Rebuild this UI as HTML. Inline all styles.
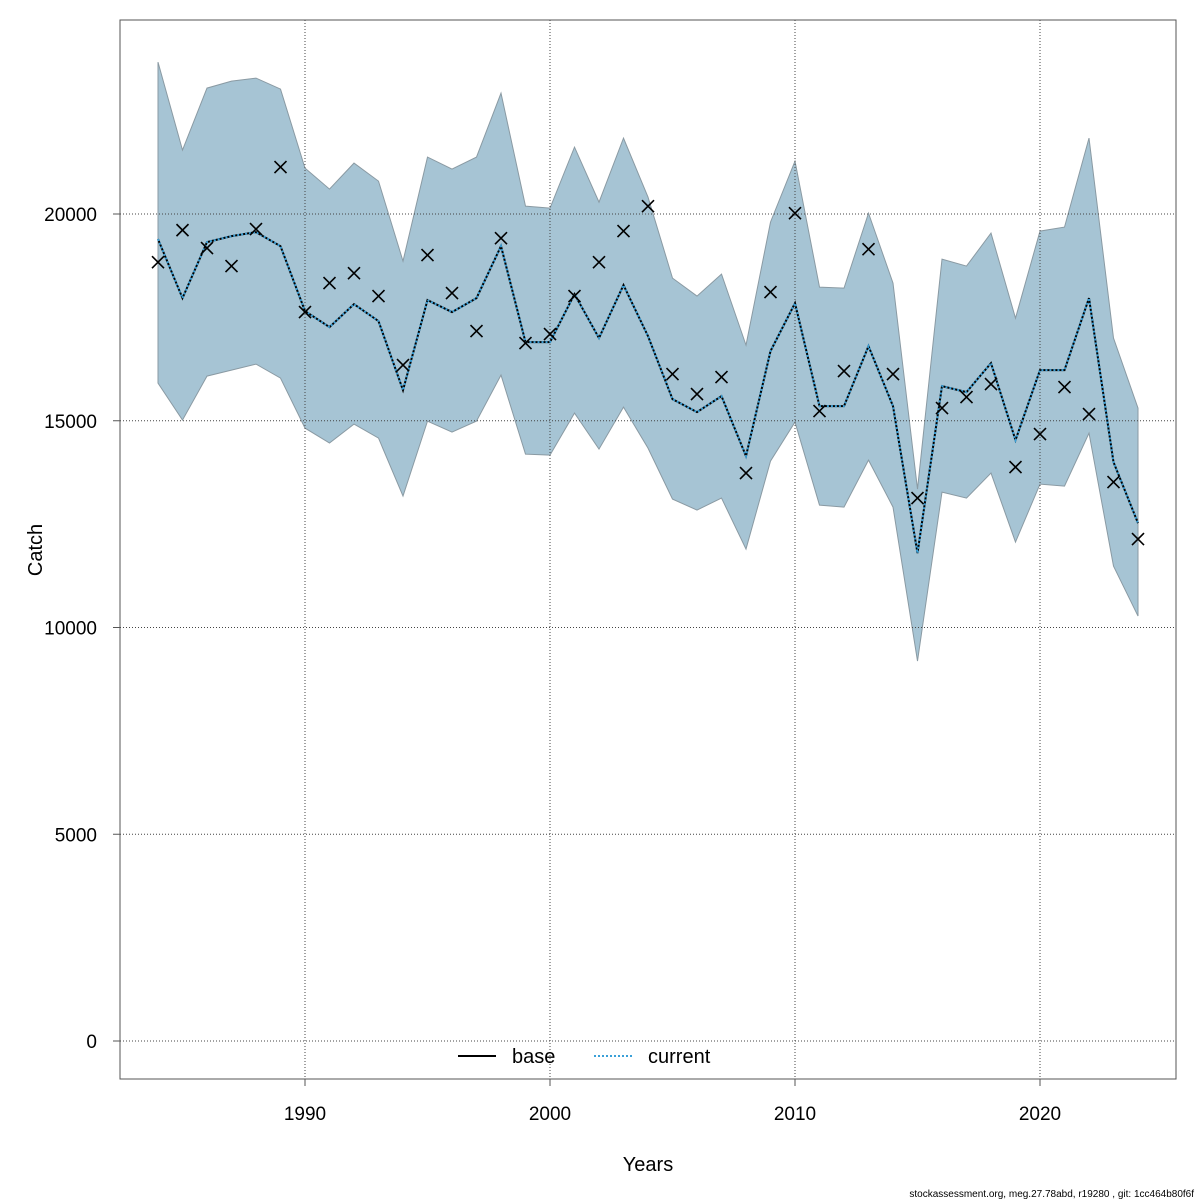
<!DOCTYPE html>
<html><head><meta charset="utf-8"><style>
html,body{margin:0;padding:0;background:#fff;}
svg{display:block;font-family:"Liberation Sans",sans-serif;}
</style></head><body>
<svg id="chart" width="1200" height="1200" viewBox="0 0 1200 1200"></svg>
<script>
const years=[];for(let y=1984;y<=2024;y++)years.push(y);
const observed=[18835,19610,19175,18740,19635,21134,17628,18330,18570,18015,16346,19006,18087,17168,19416,16878,17095,18015,18835,19586,20190,16128,15644,16056,13735,18111,20021,15233,16201,19150,16128,13130,15306,15572,15886,13880,14677,15814,15161,13517,12138];
const estimate=[19393,17966,19320,19465,19562,19223,17652,17264,17820,17410,15740,17918,17628,17966,19223,16902,16902,18063,17000,18280,17047,15523,15209,15596,14145,16684,17845,15354,15354,16805,15354,11800,15838,15693,16394,14532,16225,16225,17966,14000,12525];
const upper=[23674,21545,23045,23214,23287,23021,21110,20602,21231,20795,18860,21376,21086,21376,22923,20190,20142,21618,20287,21835,20409,18450,18015,18546,16829,19804,21279,18232,18208,20021,18330,13348,18908,18740,19538,17482,19586,19683,21835,17000,15306];
const lower=[15910,15016,16080,16225,16370,16031,14822,14460,14919,14580,13178,14991,14725,14991,16104,14193,14169,15185,14314,15330,14338,13105,12840,13130,11897,14024,14967,12960,12912,14048,12912,9188,13275,13130,13735,12066,13468,13420,14701,11486,10277];
const yTicks=[0,5000,10000,15000,20000];
const xTicks=[1990,2000,2010,2020];

const NS="http://www.w3.org/2000/svg";
const svg=document.getElementById('chart');
const X=v=>305+(v-1990)*24.5;
const Y=v=>1041-v*827/20000;
function mk(tag,attrs,parent){const e=document.createElementNS(NS,tag);for(const k in attrs)e.setAttribute(k,attrs[k]);(parent||svg).appendChild(e);return e;}

let pts=years.map((y,i)=>X(y)+','+Y(upper[i])).concat(years.map((y,i)=>X(y)+','+Y(lower[i])).reverse());
const band=mk('polygon',{points:pts.join(' '),fill:'#a6c4d4',stroke:'#8a9aa3','stroke-width':1});



yTicks.forEach(t=>{const g=mk('line',{x1:120,x2:1176,y1:Y(t),y2:Y(t),stroke:'#444','stroke-width':1,'stroke-dasharray':'1,2'});

});
xTicks.forEach(t=>{const g=mk('line',{x1:X(t),x2:X(t),y1:20,y2:1079,stroke:'#444','stroke-width':1,'stroke-dasharray':'1,2'});

});

const lp=years.map((y,i)=>X(y)+','+Y(estimate[i])).join(' ');
const base=mk('polyline',{points:lp,fill:'none',stroke:'#000','stroke-width':2});


const cur=mk('polyline',{points:lp,fill:'none',stroke:'#3aa0d8','stroke-width':2,'stroke-dasharray':'2,2'});



years.forEach((y,i)=>{const cx=X(y),cy=Y(observed[i]),s=6;
const p=mk('path',{d:`M${cx-s},${cy-s}L${cx+s},${cy+s}M${cx-s},${cy+s}L${cx+s},${cy-s}`,stroke:'#000','stroke-width':1.6,fill:'none'});

});

const box=mk('rect',{x:120,y:20,width:1056,height:1059,fill:'none',stroke:'#555','stroke-width':1});



yTicks.forEach(t=>{mk('line',{x1:113,x2:120,y1:Y(t),y2:Y(t),stroke:'#555'});
const tx=mk('text',{x:97,y:Y(t)+7,'text-anchor':'end','font-size':19,fill:'#000'});tx.textContent=t;

});
xTicks.forEach(t=>{mk('line',{x1:X(t),x2:X(t),y1:1079,y2:1086,stroke:'#555'});
const tx=mk('text',{x:X(t),y:1120,'text-anchor':'middle','font-size':19,fill:'#000'});tx.textContent=t;

});

const lg=mk('g',{});


mk('line',{x1:458,x2:496,y1:1056,y2:1056,stroke:'#000','stroke-width':2},lg);
let t1=mk('text',{x:512,y:1063,'font-size':20},lg);t1.textContent='base';
mk('line',{x1:594,x2:632,y1:1056,y2:1056,stroke:'#3aa0d8','stroke-width':2,'stroke-dasharray':'2,2'},lg);
let t2=mk('text',{x:648,y:1063,'font-size':20},lg);t2.textContent='current';

const xt=mk('text',{x:648,y:1171,'text-anchor':'middle','font-size':20});xt.textContent='Years';


const yt=mk('text',{x:0,y:0,'text-anchor':'middle','font-size':20,transform:'translate(42,550) rotate(-90)'});yt.textContent='Catch';


const ft=mk('text',{x:1194,y:1197,'text-anchor':'end','font-size':10});ft.textContent='stockassessment.org, meg.27.78abd, r19280 , git: 1cc464b80f6f';


</script>
</body></html>
